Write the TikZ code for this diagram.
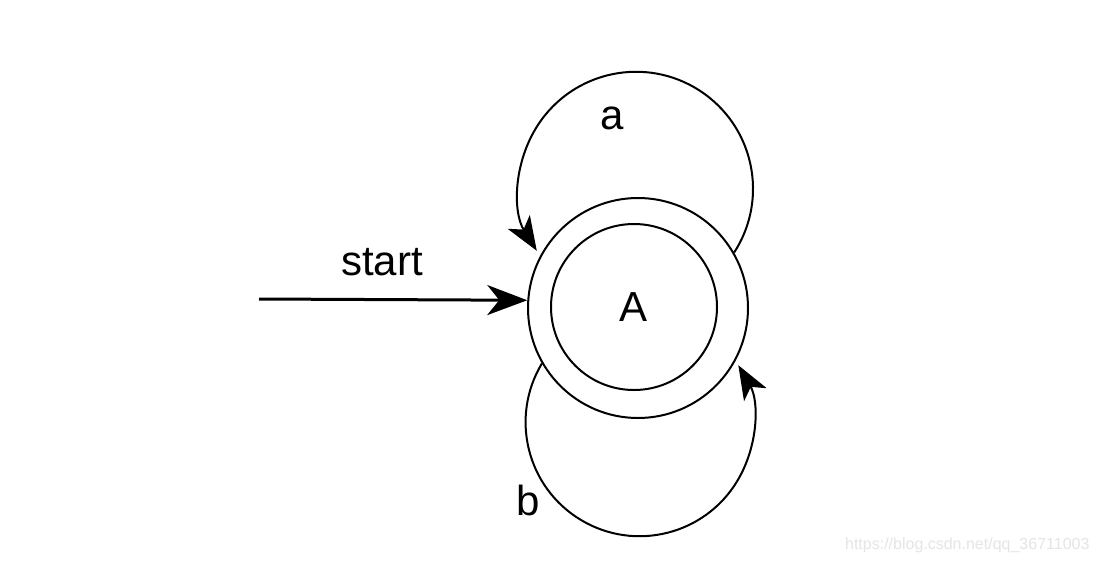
\documentclass[tikz,border=0pt]{standalone}
\usepackage{fontspec}
\setmainfont{Liberation Sans}
\usetikzlibrary{arrows.meta}
\begin{document}
\begin{tikzpicture}[x=1pt,y=1pt,
  state/.style={circle,draw,line width=2pt,inner sep=0pt},
  lbl/.style={font=\fontsize{42}{50}\selectfont},
  edge/.style={line width=2pt,-{Stealth[length=34pt,width=26pt,inset=9pt]}},
  startedge/.style={line width=3pt,-{Stealth[length=40pt,width=30pt,inset=12pt]}},
  wmark/.style={text=black!10,font=\fontsize{16}{18}\selectfont}
]
\useasboundingbox[fill=white] (0,0) rectangle (1101,-563);
% states
\node[state,minimum size=220pt] (Aout) at (638,-308) {};
\node[state,minimum size=166pt,lbl] (A) at (634,-307) {A};
% start arrow
\coordinate (s) at (259,-299);
\draw[startedge] (s) -- (Aout.176);
\node[lbl] (lstart) at (382,-262) {start};
% loop a
\draw[edge] (Aout.30) arc[start angle=-33, end angle=212, radius=117];
\node[lbl] (la) at (612,-118) {a};
% loop b
\draw[edge] (Aout.210) arc[start angle=149, end angle=390, radius=114];
\node[lbl] (lb) at (528,-500) {b};
% watermark
\node[wmark,anchor=east] (wm) at (1093,-545) {https://blog.csdn.net/qq\_36711003};
\end{tikzpicture}
\end{document}
